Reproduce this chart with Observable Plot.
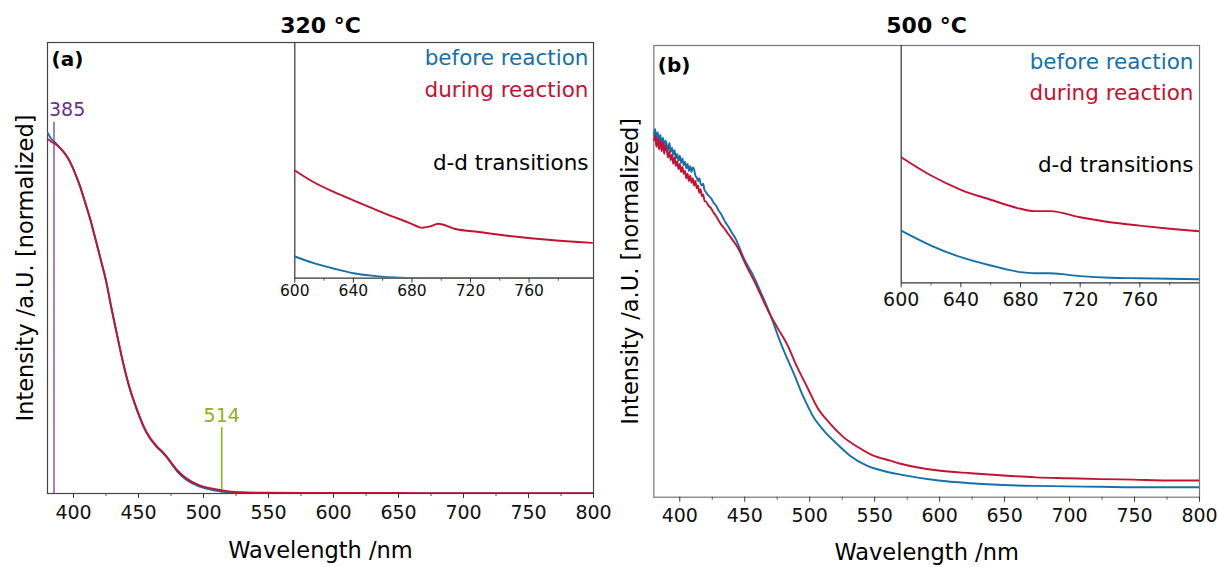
<!DOCTYPE html>
<html>
<head>
<meta charset="utf-8">
<script src="https://cdn.jsdelivr.net/npm/d3@7"></script>
<script src="https://cdn.jsdelivr.net/npm/@observablehq/plot@0.6"></script>
<style>
  html, body { margin: 0; padding: 0; background: #fff; overflow: hidden; }
  #chart { position: relative; width: 1218px; height: 567px; }
  #chart svg { position: absolute; left: 0; top: 0; }
</style>
</head>
<body>
<div id="chart"></div>
<script>
// ---------- Colours / labels ----------
const colBefore = "#1670ab";
const colDuring = "#c41230";
const seriesLabels = ["before reaction", "during reaction"];
const insetNote = "d-d transitions";
const titles = ["320 °C", "500 °C"];
const panelTags = ["(a)", "(b)"];
const xLabel = "Wavelength /nm";
const yLabel = "Intensity /a.U. [normalized]";

// ---------- Tick values ----------
const mainTicks = [400, 450, 500, 550, 600, 650, 700, 750, 800];
const mainMinor = [425, 475, 525, 575, 625, 675, 725, 775];
const insetTicks = [600, 640, 680, 720, 760];
const insetMinor = [620, 660, 700, 740, 780];

// ---------- Panel (a) 320 °C main spectrum ----------
const wlA = [380, 383, 386, 390, 394, 398, 402, 405, 409, 413, 417, 421, 425, 429, 433, 437, 442, 449, 456, 464, 468, 472, 476, 480, 487, 497, 508, 518, 528, 550, 600, 650, 700, 800];
const beforeA = [0.800, 0.786, 0.778, 0.765, 0.752, 0.732, 0.705, 0.682, 0.645, 0.607, 0.563, 0.518, 0.472, 0.413, 0.358, 0.304, 0.245, 0.183, 0.135, 0.103, 0.092, 0.079, 0.063, 0.048, 0.030, 0.015, 0.007, 0.003, 0.002, 0.001, 0.0005, 0, 0, 0];
const duringA = [0.786, 0.780, 0.775, 0.765, 0.751, 0.731, 0.704, 0.681, 0.645, 0.607, 0.563, 0.518, 0.472, 0.414, 0.359, 0.305, 0.246, 0.185, 0.137, 0.105, 0.094, 0.081, 0.065, 0.051, 0.033, 0.018, 0.010, 0.005, 0.003, 0.0015, 0.001, 0.001, 0.0005, 0.0005];
const markA = [385, 514];
const markTopA = [0.823, 0.146];
const markColA = ["#6d2f8c", "#8cb21c"];
const markLineColA = ["#9262ad", "#8cb21c"];

// ---------- Panel (a) inset (zoomed intensity, arbitrary units) ----------
const wlInA_during = [600, 613, 627, 640, 654, 668, 679, 687, 692, 698, 709, 727, 750, 773, 803];
const inA_during = [0.457, 0.407, 0.365, 0.330, 0.294, 0.259, 0.233, 0.214, 0.219, 0.231, 0.210, 0.195, 0.177, 0.163, 0.150];
const wlInA_before = [600, 613, 627, 640, 654, 668, 680, 700, 750, 803];
const inA_before = [0.092, 0.064, 0.040, 0.021, 0.010, 0.003, 0.0, 0.0, 0.0, 0.0];

// ---------- Panel (b) 500 °C main spectrum ----------
const wlB_before = [380,381,382,383,384,385,386,387,388,389,390,391,392,393,394,395,396,397,398,399,400,401,402,403,404,405,406,407,408,409,410,411,412,413,414,415,416,417,418,419,420,422,424,426,428,430,432,434,436,438,440,442,444,446,449,452,456,460,464,468,472,476,480,488,495,503,511,521,531,544,557,570,599,624,649,674,698,724,749,775,800];
const beforeB = [0.800,0.815,0.792,0.808,0.786,0.802,0.783,0.796,0.775,0.790,0.780,0.768,0.784,0.764,0.774,0.758,0.768,0.750,0.760,0.745,0.756,0.740,0.750,0.735,0.743,0.728,0.738,0.722,0.733,0.720,0.730,0.726,0.712,0.708,0.700,0.706,0.694,0.690,0.694,0.680,0.676,0.668,0.662,0.652,0.645,0.634,0.626,0.614,0.605,0.596,0.586,0.577,0.566,0.552,0.531,0.514,0.494,0.469,0.443,0.416,0.386,0.354,0.325,0.272,0.223,0.177,0.147,0.118,0.092,0.070,0.058,0.050,0.037,0.031,0.027,0.025,0.024,0.023,0.022,0.022,0.022];
const wlB_during = [380,381,382,383,384,385,386,387,388,389,390,391,392,393,394,395,396,397,398,399,400,401,402,403,404,405,406,407,408,409,410,411,412,413,414,415,416,417,418,419,420,422,424,426,428,430,432,434,436,438,440,443,446,449,453,457,461,465,469,475,483,490,498,506,516,526,537,549,562,570,599,624,649,674,698,724,749,775,800];
const duringB = [0.790,0.800,0.776,0.795,0.770,0.790,0.766,0.785,0.760,0.778,0.768,0.752,0.766,0.746,0.758,0.738,0.752,0.733,0.744,0.726,0.738,0.720,0.731,0.716,0.722,0.706,0.716,0.700,0.712,0.696,0.706,0.690,0.700,0.684,0.690,0.674,0.682,0.666,0.670,0.656,0.655,0.646,0.640,0.630,0.622,0.612,0.603,0.596,0.588,0.580,0.572,0.560,0.545,0.526,0.502,0.480,0.456,0.431,0.407,0.376,0.336,0.290,0.244,0.198,0.162,0.133,0.111,0.092,0.081,0.074,0.059,0.053,0.048,0.044,0.042,0.040,0.039,0.037,0.037];

// ---------- Panel (b) inset ----------
const wlInB = [600, 620, 640, 660, 680, 689, 700, 720, 740, 760, 780, 800];
const inB_during = [0.529, 0.452, 0.392, 0.350, 0.312, 0.302, 0.302, 0.276, 0.255, 0.241, 0.228, 0.217];
const inB_before = [0.220, 0.157, 0.108, 0.073, 0.045, 0.040, 0.040, 0.028, 0.021, 0.019, 0.017, 0.015];

// ---------- helpers ----------
const W = 1218, H = 567;
const FONT = "DejaVu Sans";
const rows = (xs, ys) => xs.map((x, i) => ({x, y: ys[i]}));
const baseStyle = {background: "transparent", fontFamily: FONT, overflow: "visible"};

function mainPanel(o) {
  return Plot.plot({
    width: W, height: H,
    marginLeft: o.ml, marginRight: o.mr, marginTop: o.mt, marginBottom: o.mb,
    style: baseStyle,
    x: {domain: [380, 800]},
    y: {domain: [0, 1], axis: null},
    marks: [
      Plot.frame({stroke: o.frame, strokeWidth: 1.2}),
      Plot.axisX({ticks: mainTicks, tickSize: 5, tickPadding: o.tp, fontSize: 19, label: null, stroke: "#333", color: "#111"}),
      Plot.axisX({ticks: mainMinor, tickSize: 3, tickFormat: () => "", label: null, stroke: "#555"}),
      ...(o.extra || []),
      Plot.line(o.before, {x: "x", y: "y", stroke: colBefore, strokeWidth: 1.9, curve: "monotone-x", clip: true}),
      Plot.line(o.during, {x: "x", y: "y", stroke: colDuring, strokeWidth: 1.9, curve: "monotone-x", clip: true}),
      Plot.text([o.title], {frameAnchor: "top", lineAnchor: "middle", dy: o.titleDy, fontSize: 22, fontWeight: "bold", fill: "#000"}),
      Plot.text([o.tag], {frameAnchor: "top-left", textAnchor: "start", lineAnchor: "middle", dx: 4, dy: o.tagDy, fontSize: 20, fontWeight: "bold", fill: "#000"}),
      Plot.text([xLabel], {frameAnchor: "bottom", lineAnchor: "middle", dy: o.xlabDy, fontSize: 22.5, fill: "#000"}),
      Plot.text([yLabel], {frameAnchor: "left", textAnchor: "middle", lineAnchor: "middle", rotate: -90, dx: o.ylabDx, fontSize: 22.5, fill: "#000"})
    ]
  });
}

function insetPanel(o) {
  return Plot.plot({
    width: W, height: H,
    marginLeft: o.ml, marginRight: o.mr, marginTop: o.mt, marginBottom: o.mb,
    style: baseStyle,
    x: {domain: o.xdomain},
    y: {domain: [0, 1], axis: null},
    marks: [
      Plot.ruleX([o.xdomain[0]], {stroke: "#333", strokeWidth: 1.2}),
      Plot.ruleY([0], {stroke: "#333", strokeWidth: 1.2}),
      Plot.axisX({ticks: insetTicks, tickSize: 5, tickPadding: o.tp, fontSize: o.fs, label: null, stroke: "#333", color: "#111"}),
      Plot.axisX({ticks: insetMinor, tickSize: 3, tickFormat: () => "", label: null, stroke: "#555"}),
      Plot.line(o.before, {x: "x", y: "y", stroke: colBefore, strokeWidth: 1.9, curve: "monotone-x", clip: true}),
      Plot.line(o.during, {x: "x", y: "y", stroke: colDuring, strokeWidth: 1.9, curve: "monotone-x", clip: true}),
      Plot.text([seriesLabels[0]], {frameAnchor: "top-right", textAnchor: "end", lineAnchor: "middle", dx: o.ldx, dy: o.l1, fontSize: 21.5, fill: colBefore}),
      Plot.text([seriesLabels[1]], {frameAnchor: "top-right", textAnchor: "end", lineAnchor: "middle", dx: o.ldx, dy: o.l2, fontSize: 21.5, fill: colDuring}),
      Plot.text([insetNote], {frameAnchor: "top-right", textAnchor: "end", lineAnchor: "middle", dx: o.ldx, dy: o.l3, fontSize: 21.5, fill: "#000"})
    ]
  });
}

const chart = document.getElementById("chart");

// Panel (a)
const marksA = markA.map((m, i) => ({x: m, top: markTopA[i], label: String(m), col: markColA[i], lc: markLineColA[i]}));
chart.appendChild(mainPanel({
  ml: 47, mr: W - 593, mt: 42, mb: H - 493, frame: "#444", tp: 7,
  before: rows(wlA, beforeA), during: rows(wlA, duringA),
  title: titles[0], titleDy: -17, tag: panelTags[0], tagDy: 17, xlabDy: 57, ylabDx: -22,
  extra: [
    Plot.ruleX(marksA, {x: "x", y1: 0, y2: "top", stroke: "lc", strokeWidth: 1.6}),
    Plot.text(marksA.slice(0, 1), {x: "x", y: "top", text: "label", fill: "col", textAnchor: "start", dx: -5, dy: -12.5, fontSize: 19}),
    Plot.text(marksA.slice(1), {x: "x", y: "top", text: "label", fill: "col", textAnchor: "middle", dy: -12, fontSize: 19})
  ]
}));
chart.appendChild(insetPanel({
  ml: 294.3, mr: W - 593, mt: 42, mb: H - 277.7, xdomain: [600, 804],
  before: rows(wlInA_before, inA_before), during: rows(wlInA_during, inA_during),
  tp: 2, fs: 15.5, ldx: -5, l1: 16, l2: 48, l3: 121
}));

// Panel (b)
chart.appendChild(mainPanel({
  ml: 653.3, mr: W - 1199, mt: 45, mb: H - 496.7, frame: "#777", tp: 6,
  before: rows(wlB_before, beforeB), during: rows(wlB_during, duringB),
  title: titles[1], titleDy: -20, tag: panelTags[1], tagDy: 20, xlabDy: 56, ylabDx: -23
}));
chart.appendChild(insetPanel({
  ml: 900.7, mr: W - 1199, mt: 45, mb: H - 282.3, xdomain: [600, 800],
  before: rows(wlInB, inB_before), during: rows(wlInB, inB_during),
  tp: 5, fs: 19, ldx: -6, l1: 17, l2: 48, l3: 120
}));
</script>
</body>
</html>
